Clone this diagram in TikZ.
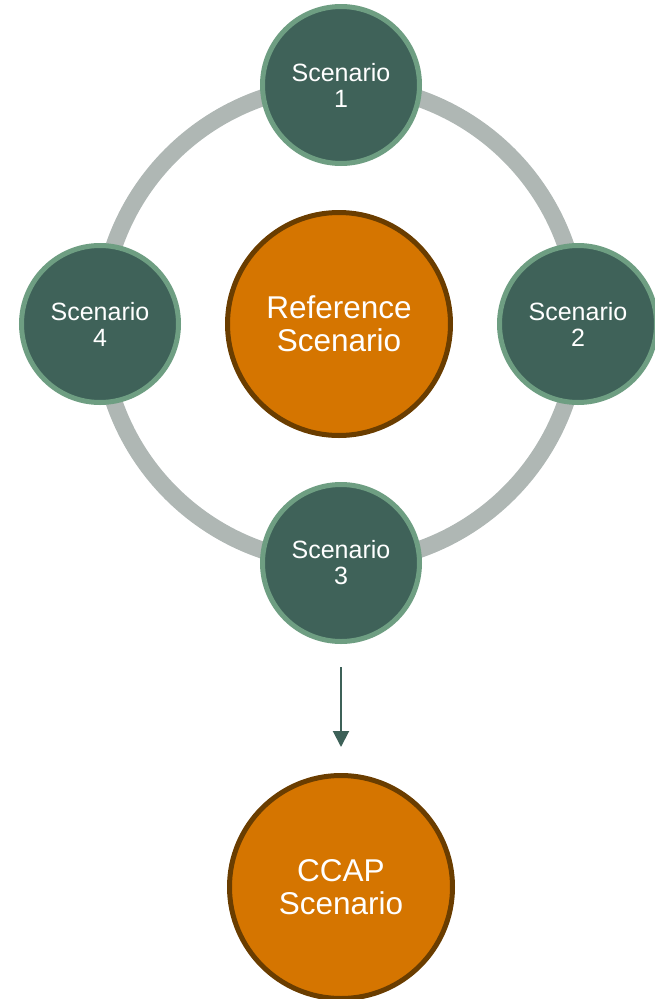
\documentclass[tikz,border=0pt]{standalone}
\usepackage{fontspec}
\setmainfont{Liberation Sans}
\usetikzlibrary{arrows.meta}
\definecolor{sfill}{HTML}{3F6259}
\definecolor{sborder}{HTML}{6E9E82}
\definecolor{ringgray}{HTML}{AFB7B4}
\definecolor{ofill}{HTML}{D57500}
\definecolor{oborder}{HTML}{6A3D00}
\definecolor{arrowc}{HTML}{3D6158}
\tikzset{
  scen/.style={circle, fill=sfill, draw=sborder, line width=5pt, minimum size=157pt, inner sep=0pt,
    text=white, align=center, font=\fontsize{25}{26}\selectfont},
  bigc/.style={circle, fill=ofill, draw=oborder, line width=5pt, minimum size=223pt, inner sep=0pt,
    text=white, align=center, font=\fontsize{31.5}{33}\selectfont},
  ring/.style={draw=ringgray, line width=17pt},
  conn/.style={draw=arrowc, line width=2pt, -{Triangle[width=16pt,length=16pt]}}
}
\begin{document}
\begin{tikzpicture}[x=1pt,y=-1pt]
\useasboundingbox (0,0) rectangle (654,999);
\coordinate (c) at (340,324);
\draw[ring] (c) circle (239pt);
\node[bigc] (ref) at (339,324) {Reference\\Scenario};
\node[scen] (s1) at (341,85) {Scenario\\1};
\node[scen] (s2) at (578,324) {Scenario\\2};
\node[scen] (s3) at (341,563) {Scenario\\3};
\node[scen] (s4) at (100,324) {Scenario\\4};
\node[bigc] (ccap) at (341,887) {CCAP\\Scenario};
\draw[conn, shorten <=23pt, shorten >=26pt] (s3.south) -- (ccap.north);
\end{tikzpicture}
\end{document}
